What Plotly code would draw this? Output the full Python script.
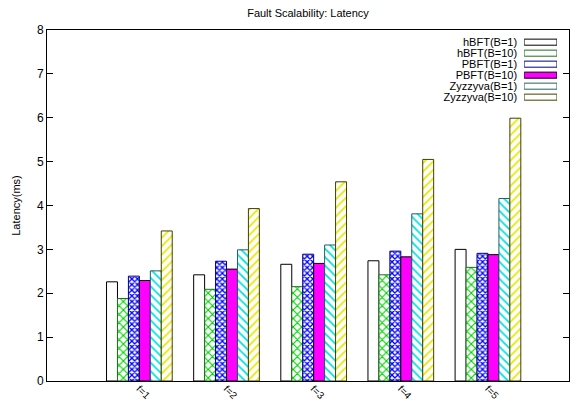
import plotly.graph_objects as go

categories = ["f=1", "f=2", "f=3", "f=4", "f=5"]
series_names = ["hBFT(B=1)", "hBFT(B=10)", "PBFT(B=1)", "PBFT(B=10)",
                "Zyzzyva(B=1)", "Zyzzyva(B=10)"]
hbft_b1 = [2.26, 2.42, 2.66, 2.74, 3.00]
hbft_b10 = [1.88, 2.09, 2.15, 2.42, 2.59]
pbft_b1 = [2.39, 2.73, 2.89, 2.96, 2.91]
pbft_b10 = [2.29, 2.55, 2.68, 2.83, 2.88]
zyz_b1 = [2.51, 2.99, 3.10, 3.81, 4.16]
zyz_b10 = [3.42, 3.93, 4.54, 5.05, 5.99]
y_ticks = [0, 1, 2, 3, 4, 5, 6, 7, 8]

values = [hbft_b1, hbft_b10, pbft_b1, pbft_b10, zyz_b1, zyz_b10]
fills = ["white", "white", "white", "#ff00ff", "white", "white"]
pat_shapes = ["", "x", "x", "", "\\", "/"]
pat_fg = ["black", "#00d000", "#0000ff", "#ff00ff", "#00e0e0", "#e8e800"]
pat_size = [6, 6, 4, 6, 6, 6]
pat_sol = [0.3, 0.35, 0.55, 0.3, 0.3, 0.3]
line_cols = ["black", "#207020", "#000080", "black", "#206060", "#404000"]

FONT = "Liberation Sans, Arial, sans-serif"
xs = list(range(len(categories)))

fig = go.Figure()
for name, vals, fc, ps, pf, pz, so, lc in zip(series_names, values, fills, pat_shapes,
                                               pat_fg, pat_size, pat_sol, line_cols):
    fig.add_trace(go.Bar(
        x=xs, y=vals, name=name, showlegend=False,
        marker=dict(color=fc, line=dict(color=lc, width=1),
                    pattern=dict(shape=ps, fgcolor=pf, bgcolor=fc, size=pz,
                                 solidity=so, fillmode="replace")),
    ))

# legend replica: swatches right of right-aligned labels
swatch_len = [1] * len(series_names)
fig.add_trace(go.Bar(
    x=swatch_len, y=series_names, orientation="h", width=0.55,
    xaxis="x2", yaxis="y2", showlegend=False, hoverinfo="skip",
    marker=dict(color=fills, line=dict(color=line_cols, width=1),
                pattern=dict(shape=pat_shapes, fgcolor=pat_fg, bgcolor=fills,
                             size=[3] * 6, solidity=0.5, fillmode="replace")),
))

fig.update_layout(
    width=571, height=403,
    margin=dict(l=47, r=2, t=30, b=22, autoexpand=False),
    paper_bgcolor="white", plot_bgcolor="white",
    barmode="group", bargap=0.246, bargroupgap=0,
    font=dict(family=FONT, size=12, color="black"),
    title=dict(text="Fault Scalability: Latency", x=0.5, xref="paper",
               y=0.967, yref="container", xanchor="center", yanchor="middle",
               font=dict(size=11, family=FONT)),
    xaxis=dict(range=[-1.06, 4.93], tickvals=xs, ticktext=categories,
               tickangle=45, ticks="", showgrid=False, zeroline=False,
               showline=True, linecolor="black", linewidth=1, mirror=True,
               tickfont=dict(size=10), automargin=False, ticklabelstandoff=-3),
    yaxis=dict(range=[0, 8], tickvals=y_ticks, ticks="inside", ticklen=6,
               tickcolor="black", showgrid=False, zeroline=False,
               showline=True, linecolor="black", linewidth=1, mirror="allticks",
               title=dict(text="Latency(ms)", font=dict(size=11), standoff=14),
               tickfont=dict(size=12), automargin=False),
    xaxis2=dict(domain=[0.914, 0.977], anchor="y2", range=[0, 1], visible=False),
    yaxis2=dict(domain=[0.793, 0.981], anchor="x2", type="category",
                tickmode="array", tickvals=series_names, ticktext=series_names,
                autorange="reversed", showline=False, ticks="", showgrid=False,
                zeroline=False, tickfont=dict(size=11), ticklabelstandoff=6,
                automargin=False),
)

fig.write_html("out.html", config={"displayModeBar": False},
               post_script="document.body.style.margin='0';document.body.style.overflow='hidden';")
